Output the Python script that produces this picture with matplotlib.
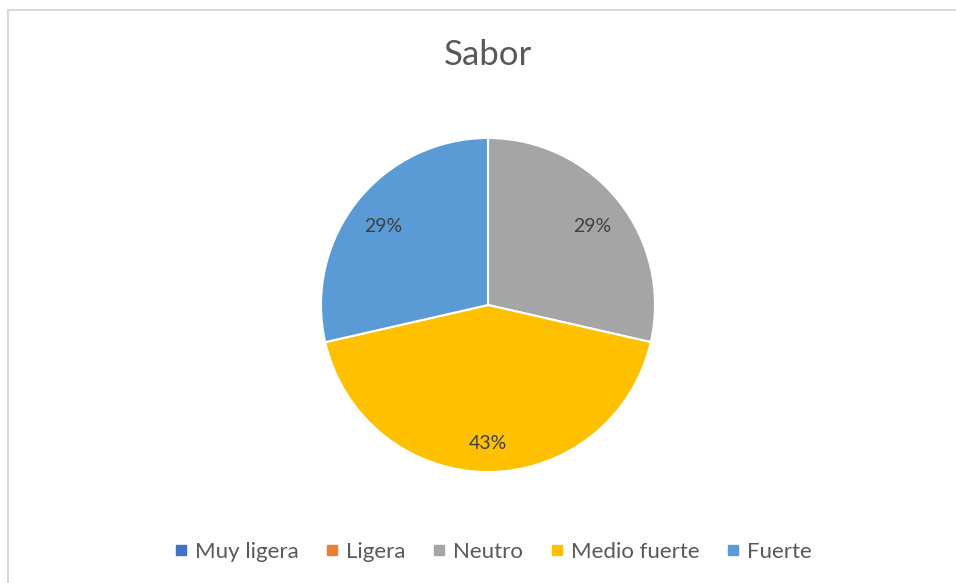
import matplotlib.pyplot as plt
from matplotlib.patches import Rectangle
from matplotlib.lines import Line2D

categories = ['Muy ligera', 'Ligera', 'Neutro', 'Medio fuerte', 'Fuerte']
values = [0, 0, 2, 3, 2]
colors = ['#4472C4', '#ED7D31', '#A5A5A5', '#FFC000', '#5B9BD5']
title = 'Sabor'

plt.rcParams['font.family'] = ['Lato', 'DejaVu Sans']

fig = plt.figure(figsize=(9.56, 5.83), dpi=100)
W, H = 956, 583

# light grey chart border (runs off the right and bottom edge)
fig.patches.append(Rectangle((8 / W, -0.1), 1.1, (583 - 10) / H + 0.1,
                             transform=fig.transFigure, fill=False,
                             edgecolor='#d9d9d9', linewidth=1.5))

cx, cy, r = 488, 583 - 305, 167
ax = fig.add_axes([(cx - r) / W, (cy - r) / H, 2 * r / W, 2 * r / H])


def fmt(p):
    return f'{p:.0f}%' if p > 0 else ''


wedges, texts, autotexts = ax.pie(
    values, colors=colors, startangle=90, counterclock=False,
    autopct=fmt, pctdistance=0.8,
    wedgeprops=dict(edgecolor='white', linewidth=1.5),
    textprops=dict(color='#404040', fontsize=14))
for t in autotexts:
    x, y = t.get_position()
    t.set_position((x, y - 0.03))
ax.set_xlim(-1, 1)
ax.set_ylim(-1, 1)

fig.text(cx / W, 1 - 55 / H, title, ha='center', va='center',
         fontsize=25, color='#595959')

handles = [Line2D([], [], marker='s', linestyle='none', markersize=7,
                  markerfacecolor=c, markeredgecolor=c) for c in colors]
fig.legend(handles, categories, loc='center', bbox_to_anchor=(493 / W, 1 - 552 / H),
           ncol=5, frameon=False, fontsize=16, handlelength=0.6,
           handletextpad=0.34, columnspacing=1.2, labelcolor='#595959')

fig.savefig('out.png', dpi=100)
